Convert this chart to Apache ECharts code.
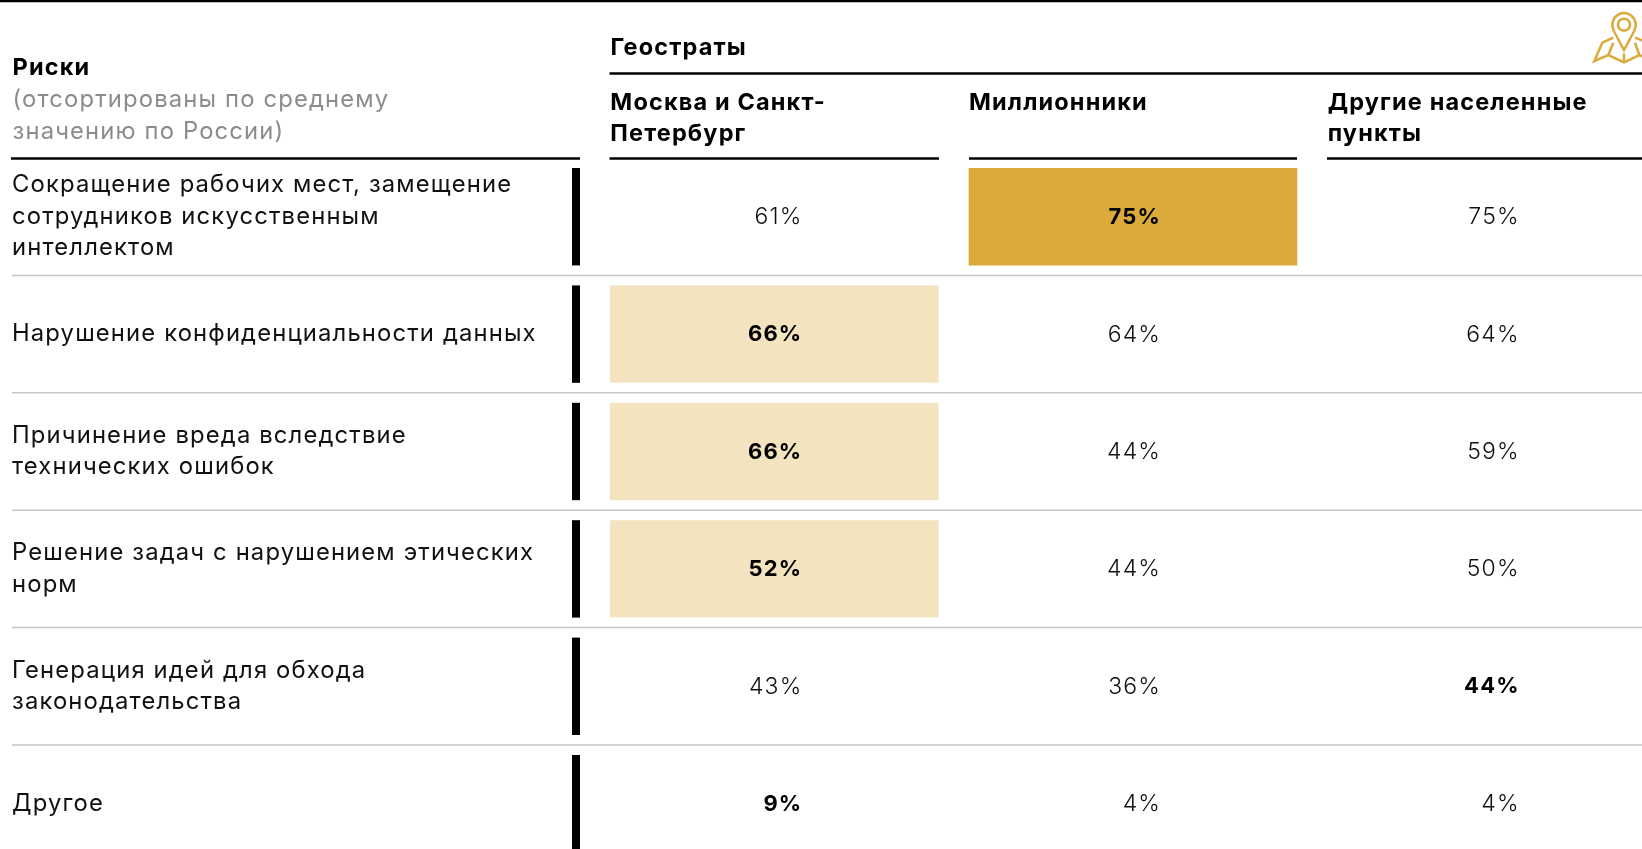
<!DOCTYPE html>
<html><head><meta charset="utf-8">
<style>html,body{margin:0;padding:0;background:#fff;overflow:hidden}#c{width:1642px;height:849px}</style>
<script>
// the reference type is tracked out: apply it to every 2d context ECharts opens
const nativeGetContext = HTMLCanvasElement.prototype.getContext;
HTMLCanvasElement.prototype.getContext = function (t, o) {
  const c = nativeGetContext.call(this, t, o);
  if (t === '2d' && c && 'letterSpacing' in c) c.letterSpacing = '1.15px';
  return c;
};
</script>
<script src="https://cdn.jsdelivr.net/npm/echarts@6/dist/echarts.min.js"></script>
</head><body><div id="c"></div>
<script>
const risks = [
  'Сокращение рабочих мест, замещение\nсотрудников искусственным\nинтеллектом',
  'Нарушение конфиденциальности данных',
  'Причинение вреда вследствие\nтехнических ошибок',
  'Решение задач с нарушением этических\nнорм',
  'Генерация идей для обхода\nзаконодательства',
  'Другое'
];
const columns = ['Москва и Санкт-\nПетербург', 'Миллионники', 'Другие населенные\nпункты'];
const moscowSpb = [61, 66, 66, 52, 43, 9];
const millionCities = [75, 64, 44, 44, 36, 4];
const otherPlaces = [75, 64, 59, 50, 44, 4];
// 0 plain, 1 bold, 2 bold on pale fill, 3 bold on gold fill
const moscowSpbLevel = [0, 2, 2, 2, 0, 1];
const millionCitiesLevel = [3, 0, 0, 0, 0, 0];
const otherPlacesLevel = [0, 0, 0, 0, 1, 0];
const headRisks = 'Риски';
const headNote = '(отсортированы по среднему\nзначению по России)';
const headGroup = 'Геостраты';

const FONT = 'Inter';
const FS = 23.8, FSB = 23.5;
const GOLD = '#dca93b', PALE = '#f3e3bf', RULE = '#c6c6c6', W = 1642;
const fills = {2: PALE, 3: GOLD};

function cell(params, api) {
  const c = api.coord([api.value(0), api.value(1)]);
  const s = api.size([1, 1]);
  const level = api.value(3);
  const kids = [];
  const cw = s[0] - 30, ch = s[1] - 20;
  if (fills[level]) kids.push({type: 'rect', shape: {x: c[0] - cw / 2, y: c[1] - ch / 2, width: cw, height: ch},
    style: {fill: fills[level]}});
  kids.push({type: 'text', x: c[0] + 28, y: c[1] + 0.5, style: {text: api.value(2) + '%', align: 'right', verticalAlign: 'middle',
    fontFamily: FONT, fontSize: level ? 22 : 23, fontWeight: level ? 700 : 300, fill: level ? '#000' : '#111'}});
  return {type: 'group', children: kids};
}
function rowMark(params, api) {
  const c = api.coord([0, api.value(0)]);
  const h = api.size([1, 1])[1];
  const x0 = params.coordSys.x;
  const kids = [{type: 'rect', shape: {x: x0 - 23, y: c[1] - h / 2 + 10, width: 8, height: h - 20}, style: {fill: '#000'}}];
  if (api.value(0) < risks.length - 1) kids.push({type: 'line',
    shape: {x1: 12, y1: c[1] + h / 2, x2: W, y2: c[1] + h / 2}, style: {stroke: RULE, lineWidth: 1.5}});
  return {type: 'group', children: kids};
}
const colSeries = (name, col, vals, lv) => ({name, type: 'custom', renderItem: cell, silent: true,
  encode: {x: 0, y: 1}, data: vals.map((v, i) => [col, i, v, lv[i]])});
const rule = (x1, x2, y) => ({type: 'line', shape: {x1, y1: y, x2, y2: y}, style: {stroke: '#000', lineWidth: 2.5}});
const txt = (x, y, text, o) => ({type: 'text', x, y, style: Object.assign({text, fontFamily: FONT, fontSize: FS, fill: '#000',
  verticalAlign: 'middle', lineHeight: 31.5}, o)});
const iconLine = pts => ({type: 'polyline', shape: {points: pts}, style: {fill: 'none', stroke: GOLD, lineWidth: 7.5}});

const chart = echarts.init(document.getElementById('c'), null, {renderer: 'canvas', width: W, height: 849});
chart.setOption({
  animation: false,
  backgroundColor: '#fff',
  tooltip: {show: false},
  grid: {left: 595, top: 158, width: 1076, height: 704.4, outerBoundsMode: 'none', containLabel: false},
  xAxis: {type: 'category', position: 'top', data: columns, axisLine: {show: false}, axisTick: {show: false},
    axisLabel: {interval: 0, margin: 71, verticalAlign: 'top', align: 'center',
      formatter: v => v.split('\n').map(l => '{h|' + l + '}').join('\n'),
      rich: {h: {width: 328, align: 'left', fontFamily: FONT, fontSize: FSB, fontWeight: 700, color: '#000', lineHeight: 31.5}}}},
  yAxis: {type: 'category', inverse: true, data: risks, axisLine: {show: false}, axisTick: {show: false},
    axisLabel: {interval: 0, margin: 583, align: 'left', padding: [1.5, 0, 0, 0], fontFamily: FONT, fontSize: FS, fontWeight: 400, color: '#111', lineHeight: 31.5}},
  series: [
    {name: 'Строки', type: 'custom', renderItem: rowMark, silent: true, encode: {y: 0}, data: risks.map((r, i) => [i])},
    colSeries(columns[0], 0, moscowSpb, moscowSpbLevel),
    colSeries(columns[1], 1, millionCities, millionCitiesLevel),
    colSeries(columns[2], 2, otherPlaces, otherPlacesLevel)
  ],
  graphic: [
    rule(0, W, 1), rule(609.5, W, 73.5), rule(11, 580, 158.5), rule(609.5, 939, 158.5), rule(969, 1297, 158.5), rule(1327, W, 158.5),
    txt(12.5, 68, headRisks, {fontWeight: 700, fontSize: FSB}),
    txt(12.5, 116, headNote, {fill: '#8c8c8c', fontWeight: 400}),
    txt(610.5, 48, headGroup, {fontWeight: 700, fontSize: FSB}),
    {type: 'group', x: 1400, y: 0, scaleX: 1 / 3, scaleY: 1 / 3, children: [
      {type: 'arc', shape: {cx: 672, cy: 74, r: 35, startAngle: Math.PI * 0.85, endAngle: Math.PI * 2.15}, style: {fill: 'none', stroke: GOLD, lineWidth: 7.5}},
      iconLine([[640, 90], [672, 150], [704, 90]]),
      {type: 'circle', shape: {cx: 672, cy: 74, r: 18}, style: {fill: 'none', stroke: GOLD, lineWidth: 7.5}},
      iconLine([[640, 113], [607, 128], [583, 183], [625, 165], [672, 187], [718, 165], [735, 172]]),
      iconLine([[705, 113], [735, 125]]),
      iconLine([[640, 128], [625, 165]]),
      iconLine([[672, 160], [672, 187]]),
      iconLine([[705, 128], [718, 165]])
    ]}
  ]
});
</script></body></html>
